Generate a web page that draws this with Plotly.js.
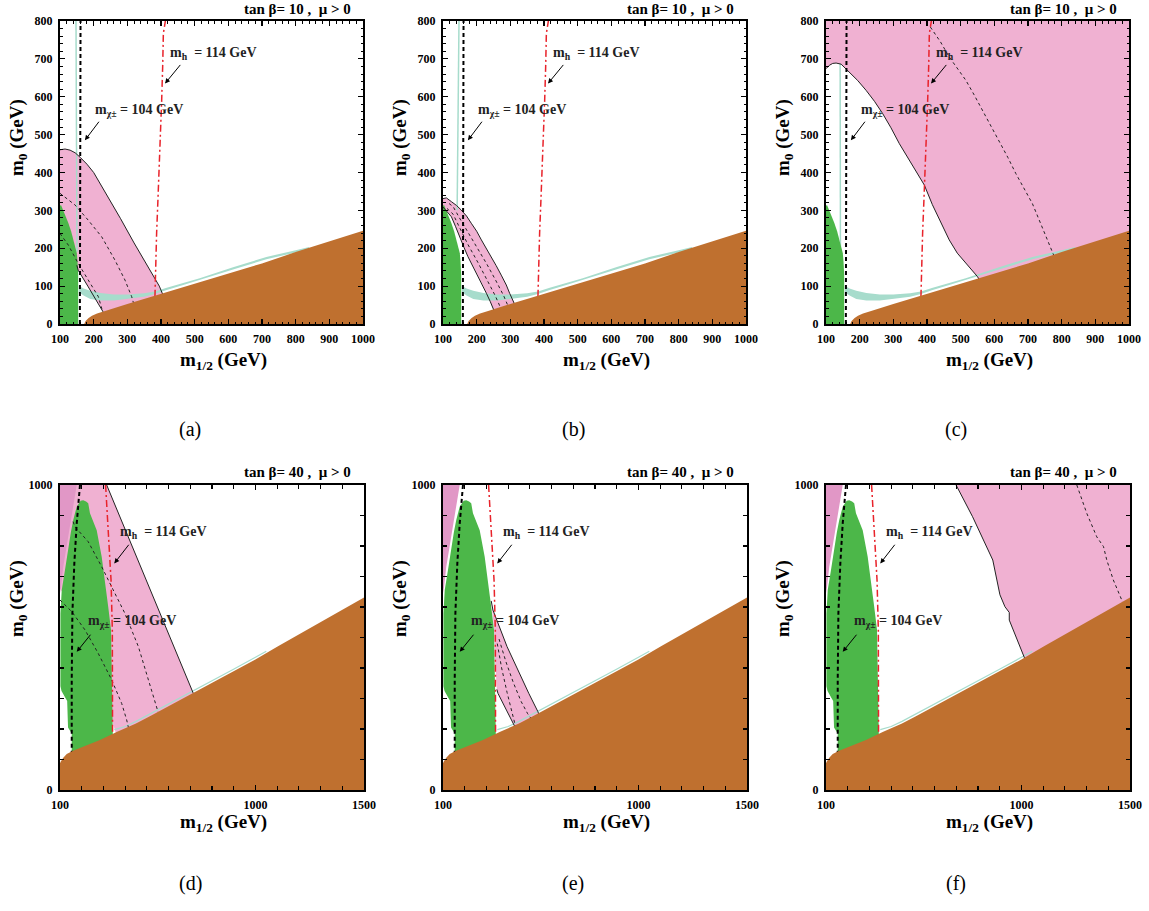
<!DOCTYPE html>
<html><head><meta charset="utf-8">
<script src="https://cdn.plot.ly/plotly-3.0.1.min.js"></script>
<style>body{margin:0;padding:0;background:#fff}#chart{width:1149px;height:911px}</style>
</head><body><div id="chart"></div>
<script>
// ================= DATA =================
const panelLabels = ['(a)','(b)','(c)','(d)','(e)','(f)'];
const panelTitles = ['tan β= 10 ,&nbsp; μ > 0','tan β= 10 ,&nbsp; μ > 0','tan β= 10 ,&nbsp; μ > 0',
                     'tan β= 40 ,&nbsp; μ > 0','tan β= 40 ,&nbsp; μ > 0','tan β= 40 ,&nbsp; μ > 0'];
const higgsLabel = 'm<sub>h</sub>&nbsp;&nbsp;= 114 GeV';
const charginoLabel = 'm<sub>χ±</sub> = 104 GeV';
const xTitle = 'm<sub>1/2</sub> (GeV)';
const yTitle = 'm<sub>0</sub> (GeV)';

// ---- top row (tan beta = 10) ----
const topBrownX = [172,176,185,195,210,234,300,400,500,600,700,800,900,1000];
const topBrownY = [0,8,16,22,28,34,53,80,107,134,160,190,218,246];
const topGreenX = [100,100,103,110,118,125,133,140,146,150,152,153,154,154];
const topGreenY = [0,312,314,300,282,266,245,222,205,187,165,151,130,0];
const topStripUpX = [156,170,190,220,260,300,350,382,417,471,515,614,713,800,840];
const topStripUpY = [101,94,88,82,78,78,81,86,96,110,121,150,177,195,203];
const topStripLoX = [840,800,713,614,515,471,417,382,350,300,260,220,190,170,156];
const topStripLoY = [197,189,171,144,115,104,90,79,72,66,62,62,66,75,84];
const topTurqVertAX = [147.5,148,149,150.5], topTurqVertAY = [800,500,300,190];
const topTurqVertBX = [147.5,146,144.5,142],  topTurqVertBY = [800,590,400,300];
const topTurqVertCX = [142,142,143],          topTurqVertCY = [688,400,100];
const topCharginoX = [159,161], topCharginoY = [0,800];
const topHiggsX = [382,384,387,391,395,399,402,405,407,413];
const topHiggsY = [72,150,240,330,415,500,590,680,767,800];

// panel (a)
const pinkAOuterX = [100,115,130,145,160,180,200,240,280,320,360,382,395,408];
const pinkAOuterY = [460,462,459,452,440,422,400,340,278,214,152,120,100,72];
const pinkAInnerX = [150,154,184,214,229,236];
const pinkAInnerY = [155,142,98,55,32,20];
const pinkADash1X = [100,145,184,224,263,293,313,320];
const pinkADash1Y = [345,314,274,230,169,116,72,50];
const pinkADash2X = [100,125,154,184,214,224,230];
const pinkADash2Y = [239,208,160,116,72,41,25];

// panel (b)
const pinkBOuterX = [100,110,125,140,154,170,184,200,214,230,243,258,273,288,298,311,320];
const pinkBOuterY = [331,333,323,313,301,285,266,245,222,198,178,154,129,103,81,56,38];
const pinkBInnerX = [100,112,125,137,149,162,174,190,204,218,229,240,248,255];
const pinkBInnerY = [309,297,283,258,230,203,178,151,125,102,81,60,41,28];
const pinkBDash1X = [112,130,149,174,204,229,255,270];
const pinkBDash1Y = [305,290,255,210,162,120,75,45];
const pinkBDash2X = [118,130,149,174,204,229,255,280,292];
const pinkBDash2Y = [318,310,280,243,200,160,118,75,50];

// panel (c)
const pinkCCurveX = [100,110,120,130,145,169,194,219,244,268,293,318,342,367,392,416,441,466,490,515,535,550,560];
const pinkCCurveY = [674,683,688,689,686,665,643,617,588,556,518,476,440,405,367,315,268,222,187,160,140,125,110];
const pinkCDashX = [410,440,466,490,515,540,565,590,614,640,664,690,713,740,773,778];
const pinkCDashY = [784,745,705,675,644,605,564,525,485,440,397,355,318,260,186,178];

// ---- bottom row (tan beta = 40) ----
const botBrownX = [100,103,115,131,160,207,284,361,450,514,600,713,800,897,1000,1100,1204,1300,1400,1500];
const botBrownY = [88,93,106,118,129,142,164,190,218,242,275,318,350,388,428,470,512,552,592,631];
const botGreenX = [154,154,137,133,107,102,102,104,108,123,138,150,161,177,195,207,220,230,238,255,269,292,307,322,335,338,341,341,345,345];
const botGreenY = [110,185,205,292,325,340,579,620,656,721,798,845,885,929,948,950,946,940,907,880,852,765,689,601,525,415,295,208,175,110];
const botDarkPinkX = [100,100,177,161,146,131,115,105];
const botDarkPinkY = [645,1000,1000,929,874,809,732,667];
const botTurqX = [350,400,450,514,600,713,800,897,1000,1050];
const botTurqY = [198,208,225,249,282,325,357,395,435,455];
const botCharginoX = [192,185,177,166,157,154,154];
const botCharginoY = [1000,950,874,743,579,361,110];
const botHiggsX = [310,316,322,335,341,342,342];
const botHiggsY = [1000,930,852,689,525,361,180];

// panel (d)
const pinkDLineX = [315,713,725];
const pinkDLineY = [1000,318,298];
const pinkDLowerX = [360,345,320,250,180,100];
const pinkDLowerY = [180,215,300,450,580,660];
const pinkDDash1X = [100,154,215,276,338,384,407,415];
const pinkDDash1Y = [623,585,525,448,361,284,230,205];
const pinkDDash2X = [160,169,230,292,345,399,461,507,545,552];
const pinkDDash2Y = [880,863,814,732,656,579,470,361,273,255];

// panel (e)
const pinkEOuterX = [322,330,395,450,495,537,548];
const pinkEOuterY = [620,590,470,383,317,257,235];
const pinkEInnerX = [348,353,392,430,440];
const pinkEInnerY = [330,317,262,210,195];
const pinkEDash1X = [350,370,395,415,430,440];
const pinkEDash1Y = [480,400,320,260,220,200];
const pinkEDash2X = [358,390,425,460,490,505];
const pinkEDash2Y = [495,420,350,290,250,235];

// panel (f)
const pinkFCurveX = [699,775,868,901,924,944,944,1016,1030];
const pinkFCurveY = [1000,896,754,640,601,582,557,432,405];
const pinkFDashX = [1255,1301,1347,1378,1393,1423,1462,1470];
const pinkFDashY = [1000,907,830,798,754,689,623,605];

// ---- axis ticks ----
const topXTicks = [100,200,300,400,500,600,700,800,900,1000];
const topYTicks = [0,100,200,300,400,500,600,700,800];
const botXLabelTicks = [100,1000,1500];
const botXTicks = [100,200,300,400,500,600,700,800,900,1000,1100,1200,1300,1400,1500];
const botYLabelTicks = [0,1000];
const botYTicks = [0,100,200,300,400,500,600,700,800,900,1000];

// ================= STYLE =================
const PINK='#F0B1D2', DPINK='#E197C6', GREEN='#4CB749', BROWN='#BF702F', TURQ='#A7DCCC', RED='#E8232B';
const W=1149, H=911;
const SERIF='Liberation Serif, Times New Roman, serif';
const XD=[[60,363],[443,746],[826,1129],[60,364],[443,747],[826,1130]];
const YD=[[21,324],[21,324],[21,324],[485,790],[485,790],[485,790]];

const traces=[];
function ax(i){return i===0?'':String(i+1);}
function poly(xs,ys,color,i){traces.push({type:'scatter',mode:'lines',x:xs,y:ys,fill:'toself',fillcolor:color,
  line:{width:0,color:color},xaxis:'x'+ax(i),yaxis:'y'+ax(i),hoverinfo:'skip',showlegend:false});}
function line(xs,ys,color,width,dash,i){traces.push({type:'scatter',mode:'lines',x:xs,y:ys,
  line:{width:width,color:color,dash:dash},xaxis:'x'+ax(i),yaxis:'y'+ax(i),hoverinfo:'skip',showlegend:false});}
const rev=a=>a.slice().reverse();
const SMALLDASH='3px,3px', BIGDASH='4px,3px', DASHDOT='7px,3px,2px,3px';

// ---- top row ----
const stripX=topStripUpX.concat(topStripLoX), stripY=topStripUpY.concat(topStripLoY);
const brownTX=topBrownX.concat([1000]), brownTY=topBrownY.concat([0]);
const turqV=[[topTurqVertAX,topTurqVertAY],[topTurqVertBX,topTurqVertBY],[topTurqVertCX,topTurqVertCY]];
for(let i=0;i<3;i++){
  if(i===0){
    poly(pinkAOuterX.concat(rev(pinkAInnerX),[120,100]), pinkAOuterY.concat(rev(pinkAInnerY),[220,250]), PINK, i);
  } else if(i===1){
    poly(pinkBOuterX.concat(rev(pinkBInnerX)), pinkBOuterY.concat(rev(pinkBInnerY)), PINK, i);
  } else {
    poly(pinkCCurveX.concat([1000,1000,100]), pinkCCurveY.concat([240,800,800]), PINK, i);
  }
  line(turqV[i][0],turqV[i][1],TURQ,1.5,'solid',i);
  poly(stripX,stripY,TURQ,i);
  poly(topGreenX,topGreenY,GREEN,i);
  if(i===0){
    line(pinkADash1X,pinkADash1Y,'#222',1,SMALLDASH,i);
    line(pinkADash2X,pinkADash2Y,'#222',1,SMALLDASH,i);
    line(pinkAOuterX,pinkAOuterY,'#222',1,'solid',i);
    line(pinkAInnerX,pinkAInnerY,'#222',1,'solid',i);
  } else if(i===1){
    line(pinkBDash1X,pinkBDash1Y,'#222',1,SMALLDASH,i);
    line(pinkBDash2X,pinkBDash2Y,'#222',1,SMALLDASH,i);
    line(pinkBOuterX,pinkBOuterY,'#222',1,'solid',i);
    line(pinkBInnerX,pinkBInnerY,'#222',1,'solid',i);
  } else {
    line(pinkCDashX,pinkCDashY,'#222',1,SMALLDASH,i);
    line(pinkCCurveX,pinkCCurveY,'#222',1,'solid',i);
  }
  line(topCharginoX,topCharginoY,'#000',2,BIGDASH,i);
  line(topHiggsX,topHiggsY,RED,1.5,DASHDOT,i);
  poly(brownTX,brownTY,BROWN,i);
}

// ---- bottom row ----
const brownBX=botBrownX.concat([1500,100]), brownBY=botBrownY.concat([0,0]);
for(let i=3;i<6;i++){
  if(i===3){
    poly([100].concat(pinkDLineX,pinkDLowerX), [1000].concat(pinkDLineY,pinkDLowerY), PINK, i);
  } else if(i===4){
    poly(pinkEOuterX.concat(rev(pinkEInnerX),[340,335]), pinkEOuterY.concat(rev(pinkEInnerY),[420,530]), PINK, i);
  } else {
    poly(pinkFCurveX.concat([1500,1500]), pinkFCurveY.concat([620,1000]), PINK, i);
  }
  poly(botDarkPinkX,botDarkPinkY,DPINK,i);
  line(botTurqX,botTurqY,TURQ,1.2,'solid',i);
  poly(botGreenX,botGreenY,GREEN,i);
  if(i===3){
    line(pinkDDash1X,pinkDDash1Y,'#222',1,SMALLDASH,i);
    line(pinkDDash2X,pinkDDash2Y,'#222',1,SMALLDASH,i);
    line(pinkDLineX,pinkDLineY,'#222',1,'solid',i);
  } else if(i===4){
    line(pinkEDash1X,pinkEDash1Y,'#222',1,SMALLDASH,i);
    line(pinkEDash2X,pinkEDash2Y,'#222',1,SMALLDASH,i);
    line(pinkEOuterX,pinkEOuterY,'#222',1,'solid',i);
    line(pinkEInnerX,pinkEInnerY,'#222',1,'solid',i);
  } else {
    line(pinkFDashX,pinkFDashY,'#222',1,SMALLDASH,i);
    line(pinkFCurveX,pinkFCurveY,'#222',1,'solid',i);
  }
  line(botCharginoX,botCharginoY,'#000',2,BIGDASH,i);
  line(botHiggsX,botHiggsY,RED,1.5,DASHDOT,i);
  poly(brownBX,brownBY,BROWN,i);
}

// ================= LAYOUT =================
const layout={width:W,height:H,margin:{l:0,r:0,t:0,b:0},paper_bgcolor:'#fff',plot_bgcolor:'#fff',
  showlegend:false,annotations:[]};
const tickfont={family:SERIF,size:12,color:'#000',weight:'bold'};
for(let i=0;i<6;i++){
  const top=i<3;
  const common={showgrid:false,zeroline:false,showline:true,linewidth:2,linecolor:'#000',mirror:'ticks',
    ticks:'inside',ticklen:5,tickwidth:1.2,tickcolor:'#000',tickfont:tickfont,fixedrange:true};
  const xa=Object.assign({},common,{domain:[XD[i][0]/W,XD[i][1]/W],anchor:'y'+ax(i),ticklabelstandoff:3});
  const ya=Object.assign({},common,{domain:[1-YD[i][1]/H,1-YD[i][0]/H],anchor:'x'+ax(i),ticklabelstandoff:3});
  if(top){
    Object.assign(xa,{range:[100,1000],tickmode:'array',tickvals:topXTicks,
      minor:{dtick:20,ticklen:2.5,ticks:'inside',tickcolor:'#000',tickwidth:1}});
    Object.assign(ya,{range:[0,800],tickmode:'array',tickvals:topYTicks,
      minor:{dtick:20,ticklen:2.5,ticks:'inside',tickcolor:'#000',tickwidth:1}});
  } else {
    Object.assign(xa,{range:[100,1500],tickmode:'array',tickvals:botXLabelTicks,
      minor:{tickmode:'array',tickvals:botXTicks,ticklen:4,ticks:'inside',tickcolor:'#000',tickwidth:1.2}});
    Object.assign(ya,{range:[0,1000],tickmode:'array',tickvals:botYLabelTicks,
      minor:{tickmode:'array',tickvals:botYTicks,ticklen:4,ticks:'inside',tickcolor:'#000',tickwidth:1.2}});
  }
  layout['xaxis'+ax(i)]=xa; layout['yaxis'+ax(i)]=ya;

  const col=i%3, off=383*col;
  const yTitleC= top?138:599, xTitleC= top?361:823, titleC= top?9:472, letterC= top?430:883;
  const A=layout.annotations;
  A.push({xref:'paper',yref:'paper',x:(297+off)/W,y:1-titleC/H,text:'<b>'+panelTitles[i]+'</b>',showarrow:false,
    font:{family:SERIF,size:15,color:'#000'},xanchor:'center',yanchor:'middle'});
  A.push({xref:'paper',yref:'paper',x:(190+off)/W,y:1-letterC/H,text:panelLabels[i],showarrow:false,
    font:{family:SERIF,size:20,color:'#000'},xanchor:'center',yanchor:'middle'});
  A.push({xref:'paper',yref:'paper',x:(18+off)/W,y:1-yTitleC/H,text:'<b>'+yTitle+'</b>',textangle:-90,showarrow:false,
    font:{family:SERIF,size:19,color:'#000'},xanchor:'center',yanchor:'middle'});
  A.push({xref:'paper',yref:'paper',x:(223+off)/W,y:1-xTitleC/H,text:'<b>'+xTitle+'</b>',showarrow:false,
    font:{family:SERIF,size:19,color:'#000'},xanchor:'center',yanchor:'middle'});
  const xr='x'+ax(i), yr='y'+ax(i);
  const hT= top?{x:422,y:714}:{x:367,y:843};
  const cT= top?{x:199,y:565}:{x:218,y:552};
  const hA= top?{x:412,y:635,ax:461,ay:688}:{x:350,y:743,ax:422,ay:809};
  const cA= top?{x:174,y:485,ax:219,ay:538}:{x:177,y:453,ax:246,ay:514};
  A.push({xref:xr,yref:yr,x:hT.x,y:hT.y,text:'<b>'+higgsLabel+'</b>',showarrow:false,xanchor:'left',yanchor:'middle',
    font:{family:SERIF,size:14,color:'#222'}});
  A.push({xref:xr,yref:yr,x:cT.x,y:cT.y,text:'<b>'+charginoLabel+'</b>',showarrow:false,xanchor:'left',yanchor:'middle',
    font:{family:SERIF,size:14,color:'#222'}});
  [hA,cA].forEach(a=>A.push({xref:xr,yref:yr,axref:xr,ayref:yr,x:a.x,y:a.y,ax:a.ax,ay:a.ay,text:'',showarrow:true,
    arrowhead:2,arrowsize:1,arrowwidth:1,arrowcolor:'#000'}));
}
Plotly.newPlot('chart',traces,layout,{staticPlot:true,displayModeBar:false});
</script></body></html>
